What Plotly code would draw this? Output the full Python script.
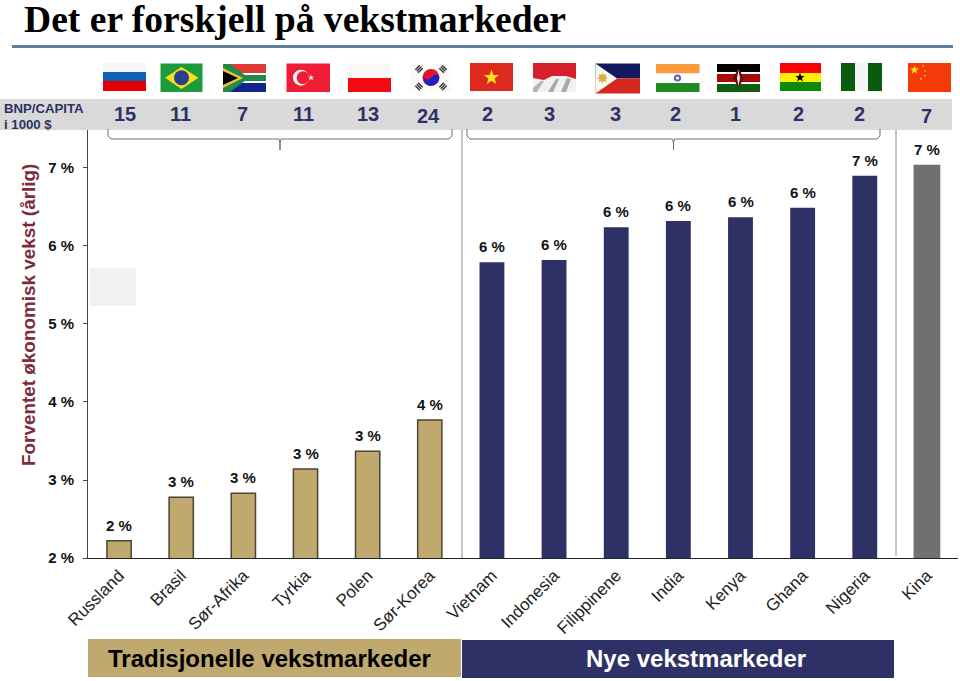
import math
import plotly.graph_objects as go

categories = ["Russland", "Brasil", "Sør-Afrika", "Tyrkia", "Polen", "Sør-Korea", "Vietnam",
              "Indonesia", "Filippinene", "India", "Kenya", "Ghana", "Nigeria", "Kina"]
growth = [2.22, 2.78, 2.83, 3.14, 3.37, 3.77, 5.79, 5.82, 6.24, 6.32, 6.37, 6.49, 6.90, 7.04]
gdp_per_capita = [15, 11, 7, 11, 13, 24, 2, 3, 3, 2, 1, 2, 2, 7]
y_ticks = [2, 3, 4, 5, 6, 7]

GOLD, NAVY, GREY = "#bfa96e", "#2e3165", "#6f7072"
bar_colors = [GOLD] * 6 + [NAVY] * 7 + [GREY]
line_colors = ["#4d452f"] * 6 + [NAVY] * 7 + [GREY]
line_widths = [1.5] * 6 + [0] * 8
bar_widths = [0.39] * 6 + [0.4] * 7 + [0.43]
gdp_shift = [6, -1, -1, -2, 0, -1, -4, -5, -1, -3, -5, -4, -5, 0]
gdp_dy = [0, 0, 0, 0, 0, 1, 0, 0, 0, 0, -1, -1, 0, 1]

W, H = 960, 681
L, R, T, B = 88, 2, 130, 123
PW, PH = W - L - R, H - T - B
px = lambda x: (x - L) / PW
py = lambda y: 1 - (y - T) / PH

shapes = []
annos = []


def rect(x0, y0, x1, y1, c):
    shapes.append(dict(type="rect", xref="paper", yref="paper", x0=px(x0), x1=px(x1), y0=py(y1), y1=py(y0),
                       fillcolor=c, line=dict(width=0), layer="above"))


def line(x0, y0, x1, y1, c="#6e6e6e", w=1):
    shapes.append(dict(type="line", xref="paper", yref="paper", x0=px(x0), x1=px(x1), y0=py(y0), y1=py(y1),
                       line=dict(color=c, width=w), layer="above"))


def poly(points, c):
    d = "M" + " L".join(f"{px(a):.5f},{py(b):.5f}" for a, b in points) + " Z"
    shapes.append(dict(type="path", xref="paper", yref="paper", path=d, fillcolor=c,
                       line=dict(width=0), layer="above"))


def circle(cx, cy, r, c):
    shapes.append(dict(type="circle", xref="paper", yref="paper", x0=px(cx - r), x1=px(cx + r),
                       y0=py(cy + r), y1=py(cy - r), fillcolor=c, line=dict(width=0), layer="above"))


def star(cx, cy, r, c, n=5, inner=0.4):
    pts = []
    for i in range(2 * n):
        a = -math.pi / 2 + i * math.pi / n
        rr = r if i % 2 == 0 else r * inner
        pts.append((cx + rr * math.cos(a), cy + rr * math.sin(a)))
    poly(pts, c)


def text(x, y, s, size, color, bold=True, family="Liberation Sans", anchor="center", angle=0):
    annos.append(dict(xref="paper", yref="paper", x=px(x), y=py(y), text=f"<b>{s}</b>" if bold else s,
                      showarrow=False, xanchor=anchor, yanchor="middle", textangle=angle,
                      font=dict(size=size, color=color, family=family)))


# Header
text(22, 19.5, "Det er forskjell på vekstmarkeder", 37.6, "#000000", family="Liberation Serif", anchor="left")
line(12, 46.5, 953, 46.5, "#5d7f9e", 3)
rect(0, 99, 952, 130, "#d9d9d9")
text(2, 109, "BNP/CAPITA", 13.2, NAVY, anchor="left")
text(2, 125, "i 1000 $", 13.2, NAVY, anchor="left")

# Flags
# Russia
rect(103, 63, 146, 72, "#f7f7f7"); rect(103, 72, 146, 81, "#0f62b5"); rect(103, 81, 146, 91, "#e30000")
# Brazil
rect(160.5, 63.5, 202.5, 92, "#1c9a3c")
poly([(165, 77.7), (181.5, 67), (198.5, 77.7), (181.5, 89)], "#f7e017")
circle(181.5, 77.7, 7.5, "#2c3f8f")
# South Africa
rect(223, 64, 266, 73, "#de3b36"); rect(223, 83, 266, 92, "#14248f"); rect(223, 73, 266, 83, "#ffffff")
rect(223, 75, 266, 81, "#1f8a4c")
poly([(223, 64), (230, 64), (249, 78), (230, 92), (223, 92)], "#1f8a4c")
poly([(223, 68), (243, 78), (223, 88)], "#f2c230")
poly([(223, 71), (238, 78), (223, 85)], "#000000")
# Turkey
rect(286.5, 63.5, 330, 92, "#ee1c35")
circle(301, 77.7, 8, "#ffffff"); circle(303, 77.7, 6.4, "#ee1c35"); star(311, 77.7, 3.2, "#ffffff")
# Poland
rect(348, 63.5, 391, 78, "#f8f8f8"); rect(348, 78, 391, 92, "#f50a14")
# Korea
rect(410, 64, 452, 92, "#fafafa")
circle(431, 77.5, 8.5, "#e3122d")
poly([(422.6, 76), (425, 79), (428, 79.5), (431, 78), (434, 75), (437, 74.5), (439.4, 77), (438, 82), (434, 85.3),
      (429, 85.8), (425, 83.5)], "#1b22c4")
for cx, cy, a in [(419, 69, 1), (443, 69, -1), (419, 86.5, -1), (443, 86.5, 1)]:
    for k in (-2, 0, 2):
        ox, oy = k * 0.71, k * 0.71 * -a * -1
        nx, ny = 3.2 * 0.71, -3.2 * 0.71 * a
        mx, my = 0.7 * 0.71, 0.7 * 0.71 * a
        poly([(cx + ox - nx - mx, cy + oy - ny - my), (cx + ox + nx - mx, cy + oy + ny - my),
              (cx + ox + nx + mx, cy + oy + ny + my), (cx + ox - nx + mx, cy + oy - ny + my)], "#333333")
# Vietnam
rect(470, 63, 513, 91, "#de2a1e"); star(491.5, 77.5, 8, "#fde616")
# Indonesia
rect(533, 63, 576, 92, "#f1f1f1")
poly([(533, 63), (576, 63), (576, 79), (566, 76), (552, 76), (544, 80), (533, 78)], "#d8202c")
poly([(533, 88), (541, 81), (544, 81), (537, 92), (533, 92)], "#b5b5b5")
poly([(548, 92), (556, 79), (559, 79), (553, 92)], "#a9a9a9")
poly([(561, 92), (567, 78), (571, 79), (566, 92)], "#a9a9a9")
# Philippines
rect(595.5, 63.5, 640, 78.5, "#14185e"); rect(595.5, 78.5, 640, 93.5, "#d5281f")
poly([(595.5, 63.5), (617, 78.5), (595.5, 93.5)], "#f8f8f2")
star(602.5, 78, 5.5, "#d9b13b", n=8, inner=0.6)
# India
rect(656, 64, 699.5, 73.5, "#fb9a3c"); rect(656, 73.5, 699.5, 83, "#ffffff"); rect(656, 83, 699.5, 92, "#1f8a1f")
circle(677.5, 78, 3.6, "#5a63ad"); circle(677.5, 78, 1.6, "#ffffff")
# Kenya
rect(717, 64, 760, 72, "#000000"); rect(717, 72, 760, 74, "#ffffff"); rect(717, 74, 760, 82, "#a80a0a")
rect(717, 82, 760, 84, "#ffffff"); rect(717, 84, 760, 92, "#0f5f0f")
poly([(738.5, 68), (744, 78), (738.5, 88), (733, 78)], "#5a1010")
poly([(738.5, 70), (740, 78), (738.5, 86), (737, 78)], "#e8e8e8")
# Ghana
rect(780, 63, 821, 73, "#fa0000"); rect(780, 73, 821, 82, "#fbf000"); rect(780, 82, 821, 91, "#0a8a0a")
star(800, 77.5, 5, "#000000")
# Nigeria
rect(841, 63, 882, 91, "#0a5a10"); rect(855, 63, 868, 91, "#f5f5f5")
# China
rect(908, 63, 951, 92, "#f53a0a"); star(914.5, 70, 4.5, "#fde616")
for cx, cy in [(923, 66), (925, 71), (925, 76), (921, 79)]:
    star(cx, cy, 1.3, "#fde616")

# Brackets and separators
for x0, xm, x1 in [(108, 280, 452), (467, 673.5, 880)]:
    c = "#6e6e6e"
    shapes.append(dict(type="path", xref="paper", yref="paper", layer="above", line=dict(color=c, width=1),
                       path=(f"M{px(x0):.5f},{py(129):.5f} L{px(x0):.5f},{py(136):.5f} L{px(x0 + 3):.5f},{py(139):.5f} "
                             f"L{px(xm - 1):.5f},{py(139):.5f} L{px(xm):.5f},{py(143):.5f} L{px(xm):.5f},{py(150):.5f} "
                             f"L{px(xm):.5f},{py(143):.5f} L{px(xm + 1):.5f},{py(139):.5f} L{px(x1 - 3):.5f},{py(139):.5f} "
                             f"L{px(x1):.5f},{py(136):.5f} L{px(x1):.5f},{py(129):.5f}")))
line(462, 130, 462, 558, "#8c8c8c", 1)
line(896, 130, 896, 556, "#8c8c8c", 1)

# Pale patch, axis title, bottom bands
rect(90, 268, 136, 306, "#f1f1f1")
text(28, 315, "Forventet økonomisk vekst (årlig)", 18.9, "#7d2b3d", angle=-90)
rect(88, 639, 461, 677, GOLD)
rect(462, 640, 894, 678, NAVY)
text(269, 658.5, "Tradisjonelle vekstmarkeder", 24, "#000000")
text(695.5, 658, "Nye vekstmarkeder", 24, "#ffffff")

# GDP numbers (on the category axis) and bar labels
for cat, v, dx, dy in zip(categories, gdp_per_capita, gdp_shift, gdp_dy):
    annos.append(dict(xref="x", yref="paper", x=cat, y=py(114.5 + dy), text=f"<b>{v}</b>", showarrow=False,
                      xshift=dx, yanchor="middle", font=dict(size=20, color=NAVY, family="Liberation Sans")))
for cat, v in zip(categories, growth):
    annos.append(dict(xref="x", yref="y", x=cat, y=v, text=f"<b>{round(v)} %</b>", showarrow=False, yanchor="bottom",
                      yshift=5, font=dict(size=15, color="#111111", family="Liberation Sans")))

fig = go.Figure(go.Bar(x=categories, y=growth, width=bar_widths,
                       marker=dict(color=bar_colors, line=dict(color=line_colors, width=line_widths))))
fig.update_layout(
    width=W, height=H, autosize=False, showlegend=False,
    margin=dict(l=L, r=R, t=T, b=B, pad=0),
    paper_bgcolor="white", plot_bgcolor="white",
    shapes=shapes, annotations=annos,
    xaxis=dict(type="category", categoryorder="array", categoryarray=categories, range=[-0.5, 13.5],
               tickangle=-45, showgrid=False, ticks="", showline=True, linecolor="#222222", linewidth=1,
               tickfont=dict(size=17, color="#222222", family="Liberation Sans"), zeroline=False),
    yaxis=dict(range=[2, 7.487], tickvals=y_ticks, ticktext=[f"<b>{t} %</b>" for t in y_ticks], showgrid=False,
               ticks="outside", ticklen=4, tickcolor="#444444", showline=True, linecolor="#444444", linewidth=1,
               ticklabelstandoff=6, tickfont=dict(size=15, color="#111111", family="Liberation Sans"), zeroline=False),
)
fig.write_html("out.html", config={"displayModeBar": False}, post_script="document.body.style.margin='0';")
